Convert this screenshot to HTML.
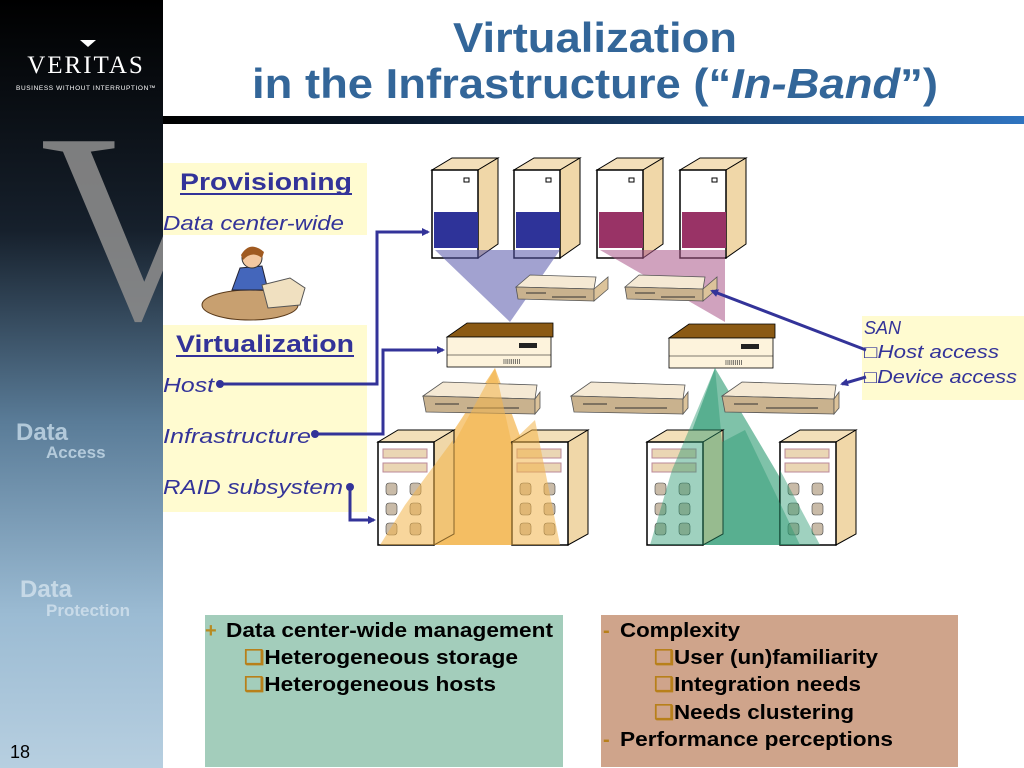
<!DOCTYPE html>
<html><head><meta charset="utf-8"><style>
html,body{margin:0;padding:0;background:#fff;}
svg{display:block;}
</style></head><body>
<svg width="1024" height="768" viewBox="0 0 1024 768" xmlns="http://www.w3.org/2000/svg" font-family="Liberation Sans, Arial, sans-serif">
<defs>
<linearGradient id="side" x1="0" y1="0" x2="0" y2="1">
<stop offset="0" stop-color="#000"/><stop offset="0.3" stop-color="#16202c"/><stop offset="0.55" stop-color="#5a7c98"/><stop offset="0.8" stop-color="#9bbbd3"/><stop offset="1" stop-color="#b7cfe0"/></linearGradient>
<linearGradient id="bar" x1="0" y1="0" x2="1" y2="0"><stop offset="0" stop-color="#000"/><stop offset="0.4" stop-color="#0e2440"/><stop offset="1" stop-color="#2f74c0"/></linearGradient>
<marker id="ah" markerWidth="8" markerHeight="8" refX="6" refY="4" orient="auto" markerUnits="userSpaceOnUse"><path d="M0,0 L8,4 L0,8 z" fill="#333399"/></marker>
<clipPath id="sideclip"><rect x="0" y="0" width="163" height="768"/></clipPath>
<g id="tower">
<polygon points="0,12 46,12 66,0 20,0" fill="#f3dfb9" stroke="#000" stroke-width="1"/>
<polygon points="46,12 66,0 66,86 46,100" fill="#f0d7a8" stroke="#000" stroke-width="1"/>
<rect x="0" y="12" width="46" height="88" fill="#fff" stroke="#000" stroke-width="1.5"/>
<rect x="32" y="20" width="5" height="4" fill="none" stroke="#000"/>
</g>
<g id="sw">
<polygon points="0,12 14,0 80,2 78,14" fill="#f5e9d4" stroke="#555" stroke-width="0.8"/>
<polygon points="0,12 78,14 78,26 2,24" fill="#c9b28e" stroke="#555" stroke-width="0.8"/>
<polygon points="78,14 92,2 92,14 78,26" fill="#dcc39a" stroke="#555" stroke-width="0.8"/>
<line x1="10" y1="18" x2="30" y2="18" stroke="#333"/><line x1="36" y1="22" x2="70" y2="22" stroke="#333"/>
</g>
<g id="sw2">
<polygon points="0,14 20,0 114,3 112,17" fill="#f5e9d4" stroke="#555" stroke-width="0.8"/>
<polygon points="0,14 112,17 112,32 3,30" fill="#c9b28e" stroke="#555" stroke-width="0.8"/>
<polygon points="112,17 117,10 117,26 112,32" fill="#dcc39a" stroke="#555" stroke-width="0.8"/>
<line x1="12" y1="22" x2="36" y2="22" stroke="#333"/><line x1="44" y1="26" x2="96" y2="26" stroke="#333"/>
</g>
<g id="box">
<polygon points="0,14 20,0 106,0 106,14" fill="#8b5a14" stroke="#000" stroke-width="0.8"/>
<rect x="0" y="14" width="104" height="30" fill="#fdf3dc" stroke="#000" stroke-width="0.8"/>
<line x1="0" y1="32" x2="104" y2="32" stroke="#000" stroke-width="0.6"/>
<rect x="72" y="20" width="18" height="5" fill="#222"/>
<text x="56" y="41" font-size="7" fill="#333">ΙΙΙΙΙΙΙΙΙ</text>
</g>
<g id="raid">
<polygon points="0,12 56,12 76,0 20,0" fill="#f3dfb9" stroke="#000"/>
<polygon points="56,12 76,0 76,104 56,115" fill="#f0d7a8" stroke="#000"/>
<rect x="0" y="12" width="56" height="103" fill="#fff" stroke="#000" stroke-width="1.5"/>
<rect x="5" y="19" width="44" height="9" fill="#ead6b4" stroke="#b89"/>
<rect x="5" y="33" width="44" height="9" fill="#ead6b4" stroke="#b89"/>
<g fill="#c9bba8" stroke="#444" stroke-width="0.6">
<rect x="8" y="53" width="11" height="12" rx="3"/><rect x="32" y="53" width="11" height="12" rx="3"/>
<rect x="8" y="73" width="11" height="12" rx="3"/><rect x="32" y="73" width="11" height="12" rx="3"/>
<rect x="8" y="93" width="11" height="12" rx="3"/><rect x="32" y="93" width="11" height="12" rx="3"/>
</g>
</g>
</defs>

<!-- sidebar -->
<rect x="0" y="0" width="163" height="768" fill="url(#side)"/>
<g clip-path="url(#sideclip)">
<text x="40" y="318" font-family="Liberation Serif, serif" font-size="270" fill="#8a8a8a" opacity="0.9">V</text>
</g>
<path d="M80,40 L96,40 L88,47 Z" fill="#fff"/>
<text x="86" y="73" text-anchor="middle" font-family="Liberation Serif, serif" font-size="25" fill="#fff" letter-spacing="2">VERITAS</text>
<text x="86" y="90" text-anchor="middle" font-size="6.5" fill="#fff" letter-spacing="0.6">BUSINESS WITHOUT INTERRUPTION™</text>
<text x="16" y="440" font-size="24" font-weight="bold" fill="#c8dcea" opacity="0.8">Data</text>
<text x="46" y="458" font-size="17" font-weight="bold" fill="#c8dcea" opacity="0.8">Access</text>
<text x="20" y="597" font-size="24" font-weight="bold" fill="#d4e3ee" opacity="0.8">Data</text>
<text x="46" y="616" font-size="17" font-weight="bold" fill="#d4e3ee" opacity="0.8">Protection</text>
<text x="10" y="758" font-size="18" fill="#000">18</text>

<!-- title -->
<text x="453" y="52" font-size="42" font-weight="bold" fill="#336699" textLength="284" lengthAdjust="spacingAndGlyphs">Virtualization</text>
<text x="252" y="98" font-size="42" font-weight="bold" fill="#336699" textLength="686" lengthAdjust="spacingAndGlyphs">in the Infrastructure (“<tspan font-style="italic">In-Band</tspan>”)</text>
<rect x="163" y="116" width="861" height="8" fill="url(#bar)"/>

<!-- yellow panels -->
<rect x="163" y="163" width="204" height="72" fill="#fffbd0"/>
<rect x="163" y="325" width="204" height="187" fill="#fffbd0"/>
<rect x="862" y="316" width="162" height="84" fill="#fffbd0"/>

<!-- person at desk -->
<ellipse cx="250" cy="305" rx="48" ry="15" fill="#c8a070" stroke="#5a3a1a"/>
<path d="M232,290 L240,268 L262,266 L268,290 Z" fill="#4466bb" stroke="#223"/>
<circle cx="252" cy="258" r="10" fill="#f4c8a0" stroke="#333"/>
<path d="M241,255 Q250,240 264,252 L262,258 Q252,250 243,260Z" fill="#a05a20"/>
<path d="M262,285 L290,278 L305,288 L300,305 L268,308 Z" fill="#f0e0c0" stroke="#555"/>

<text x="180" y="190" font-size="24" font-weight="bold" fill="#333399" textLength="172" lengthAdjust="spacingAndGlyphs">Provisioning</text>
<line x1="180" y1="194" x2="352" y2="194" stroke="#333399" stroke-width="2"/>
<text x="163" y="230" font-size="20" font-style="italic" fill="#333399" textLength="181" lengthAdjust="spacingAndGlyphs">Data center-wide</text>
<text x="176" y="352" font-size="24" font-weight="bold" fill="#333399" textLength="178" lengthAdjust="spacingAndGlyphs">Virtualization</text>
<line x1="176" y1="356" x2="354" y2="356" stroke="#333399" stroke-width="2"/>
<text x="163" y="392" font-size="20" font-style="italic" fill="#333399" textLength="51" lengthAdjust="spacingAndGlyphs">Host</text>
<text x="163" y="443" font-size="20" font-style="italic" fill="#333399" textLength="148" lengthAdjust="spacingAndGlyphs">Infrastructure</text>
<text x="163" y="494" font-size="20" font-style="italic" fill="#333399" textLength="180" lengthAdjust="spacingAndGlyphs">RAID subsystem</text>
<text x="864" y="334" font-size="18" font-style="italic" fill="#333399">SAN</text>
<text x="864" y="358" font-size="18" font-style="italic" fill="#333399" textLength="135" lengthAdjust="spacingAndGlyphs">□Host access</text>
<text x="864" y="383" font-size="18" font-style="italic" fill="#333399" textLength="153" lengthAdjust="spacingAndGlyphs">□Device access</text>

<!-- servers -->
<use href="#tower" x="432" y="158"/>
<use href="#tower" x="514" y="158"/>
<use href="#tower" x="597" y="158"/>
<use href="#tower" x="680" y="158"/>
<rect x="434" y="212" width="44" height="36" fill="#2e3399"/>
<rect x="516" y="212" width="44" height="36" fill="#2e3399"/>
<rect x="599" y="212" width="44" height="36" fill="#993366"/>
<rect x="682" y="212" width="44" height="36" fill="#993366"/>

<!-- beams -->
<polygon points="435,250 560,250 510,322" fill="#5555aa" opacity="0.55"/>
<polygon points="600,250 725,250 725,322" fill="#aa5588" opacity="0.55"/>

<use href="#sw" x="516" y="275"/>
<use href="#sw" x="625" y="275"/>
<use href="#box" x="447" y="323"/>
<use href="#box" x="669" y="324"/>

<polygon points="495,368 378,545 560,545" fill="#f3b44a" opacity="0.7"/>
<polygon points="715,368 650,545 820,545" fill="#2a9a70" opacity="0.6"/>

<use href="#sw2" x="423" y="382"/>
<use href="#sw2" x="571" y="382"/>
<use href="#sw2" x="722" y="382"/>

<use href="#raid" x="378" y="430"/>
<use href="#raid" x="512" y="430"/>
<use href="#raid" x="647" y="430"/>
<use href="#raid" x="780" y="430"/>
<polygon points="495,368 453,445 453,545 512,545 512,445" fill="#f3b44a" opacity="0.55"/>
<polygon points="405,505 453,440 453,545 380,545" fill="#f3b44a" opacity="0.55"/>
<polygon points="512,442 535,420 560,545 512,545" fill="#f3b44a" opacity="0.55"/>
<polygon points="672,470 715,368 722,442 722,545 650,545" fill="#2a9a70" opacity="0.45"/>
<polygon points="722,442 745,430 800,545 722,545" fill="#2a9a70" opacity="0.45"/>
<polygon points="780,470 820,545 780,545" fill="#2a9a70" opacity="0.45"/>

<!-- connectors -->
<g stroke="#333399" stroke-width="3" fill="none">
<polyline points="222,384 377,384 377,232 428,232" marker-end="url(#ah)"/>
<polyline points="316,434 383,434 383,350 443,350" marker-end="url(#ah)"/>
<polyline points="350,487 350,520 374,520" marker-end="url(#ah)"/>
<line x1="866" y1="350" x2="712" y2="291" marker-end="url(#ah)"/>
<line x1="866" y1="377" x2="842" y2="384" marker-end="url(#ah)"/>
</g>
<g fill="#333399"><circle cx="220" cy="384" r="4"/><circle cx="315" cy="434" r="4"/><circle cx="350" cy="487" r="4"/></g>

<!-- bottom boxes -->
<rect x="205" y="615" width="358" height="152" fill="#a3cdbb"/>
<rect x="601" y="615" width="357" height="152" fill="#cfa48b"/>
<g font-size="20" font-weight="bold" fill="#000">
<text x="205" y="637" fill="#b88a20">+</text>
<text x="226" y="637" textLength="327" lengthAdjust="spacingAndGlyphs">Data center-wide management</text>
<text x="244" y="664" textLength="274" lengthAdjust="spacingAndGlyphs"><tspan fill="#b8801a">❑</tspan>Heterogeneous storage</text>
<text x="244" y="691" textLength="252" lengthAdjust="spacingAndGlyphs"><tspan fill="#b8801a">❑</tspan>Heterogeneous hosts</text>
<text x="603" y="637" fill="#b8801a">-</text>
<text x="620" y="637" textLength="120" lengthAdjust="spacingAndGlyphs">Complexity</text>
<text x="654" y="664" textLength="224" lengthAdjust="spacingAndGlyphs"><tspan fill="#b8801a">❑</tspan>User (un)familiarity</text>
<text x="654" y="691" textLength="207" lengthAdjust="spacingAndGlyphs"><tspan fill="#b8801a">❑</tspan>Integration needs</text>
<text x="654" y="719" textLength="200" lengthAdjust="spacingAndGlyphs"><tspan fill="#b8801a">❑</tspan>Needs clustering</text>
<text x="603" y="746" fill="#b8801a">-</text>
<text x="620" y="746" textLength="273" lengthAdjust="spacingAndGlyphs">Performance perceptions</text>
</g>
</svg>
</body></html>
